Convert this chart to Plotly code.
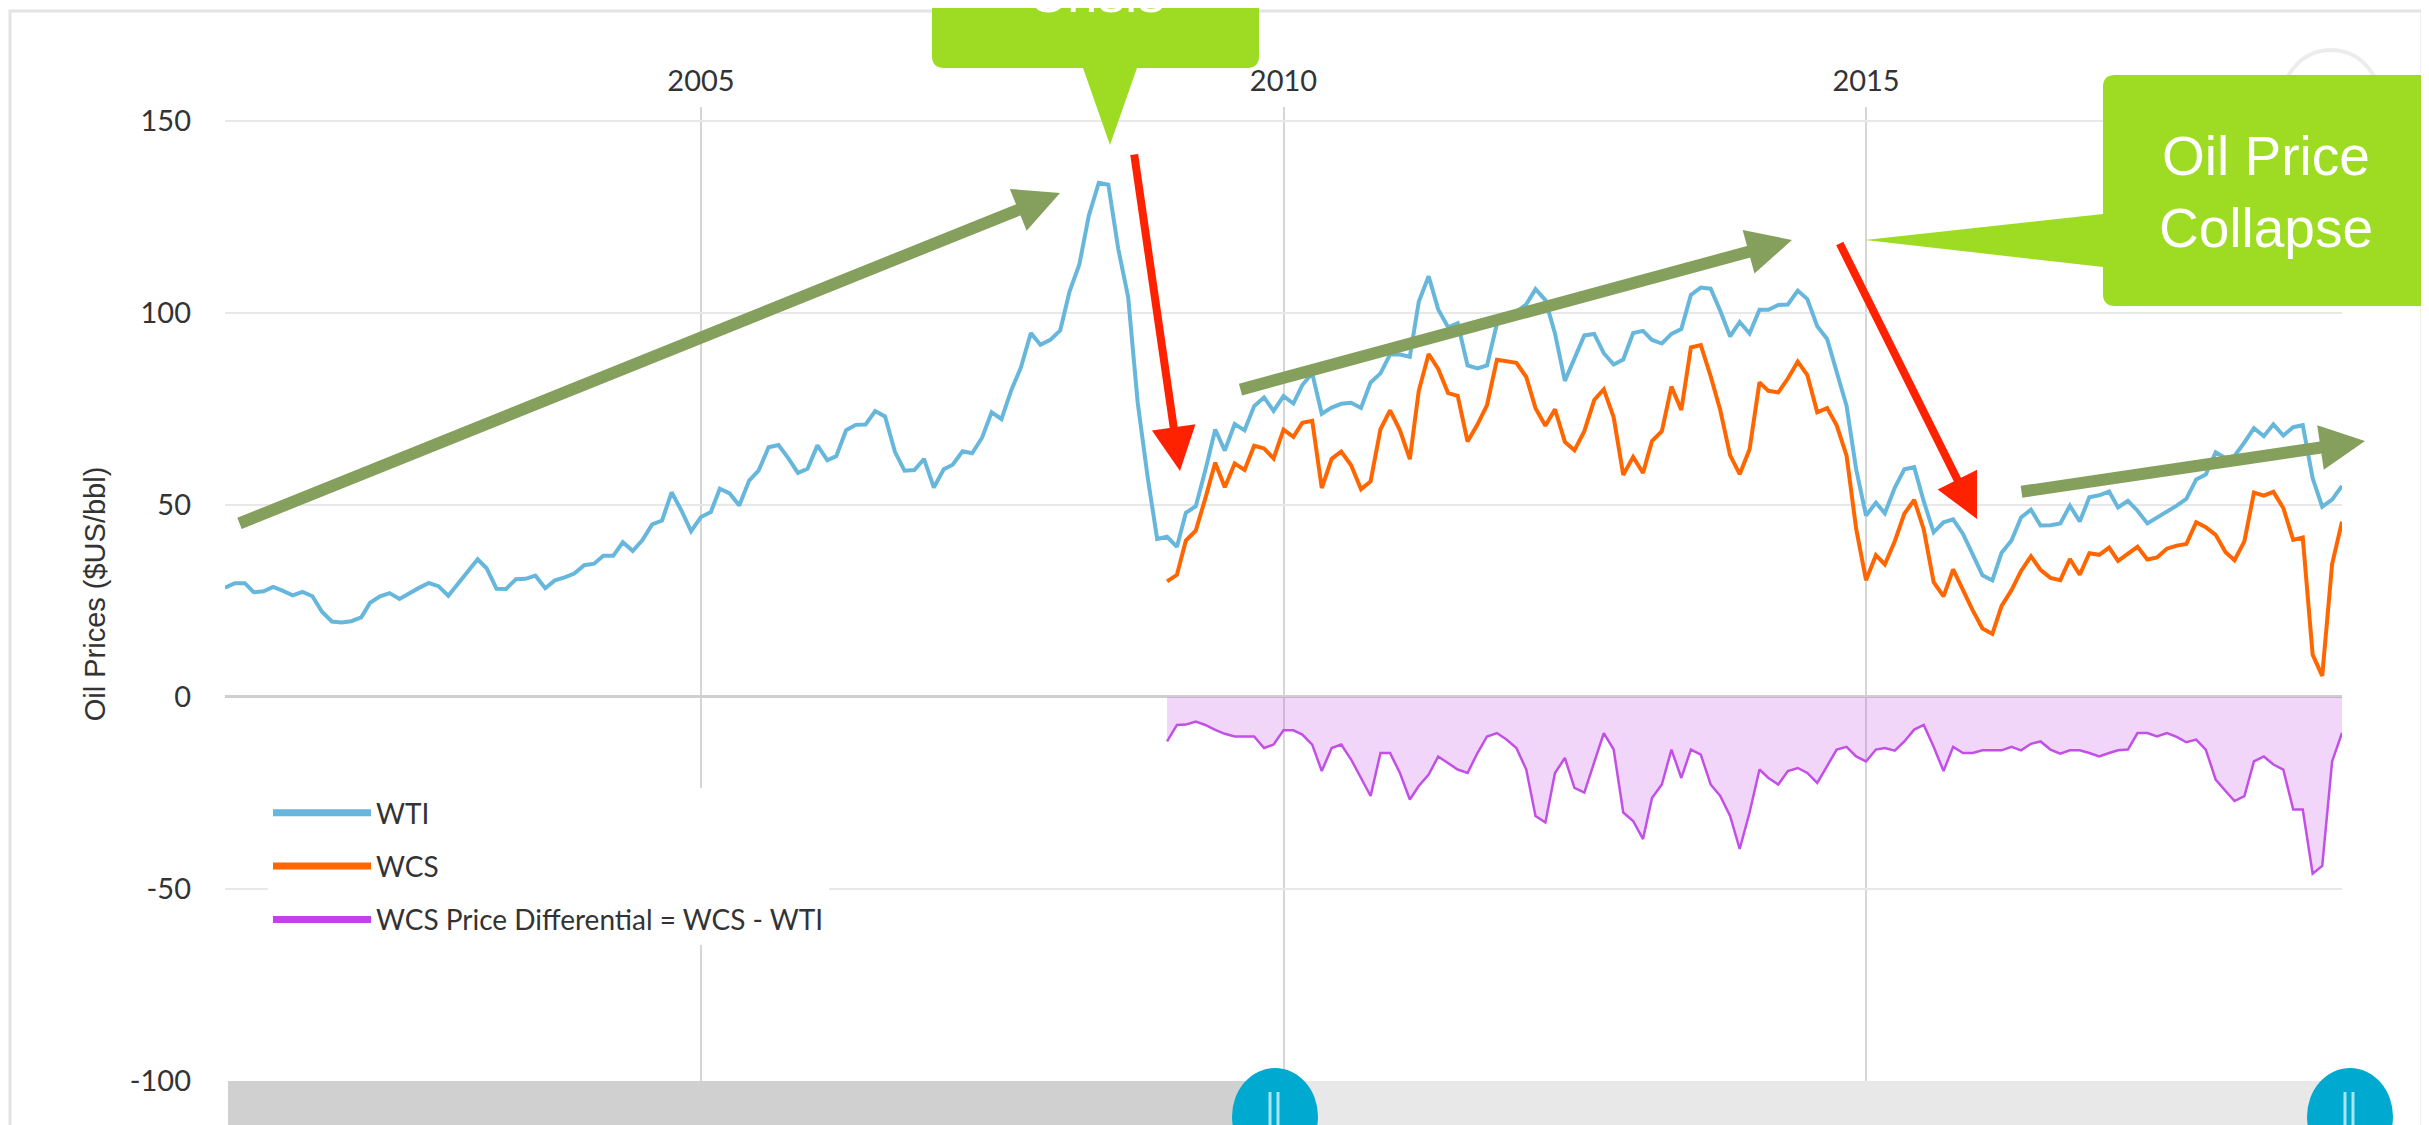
import pandas as pd
import plotly.graph_objects as go

W, H = 2429, 1125
OFF = 8  # default page margin around the plot div
margin = dict(l=217, r=87, t=99, b=44, pad=0)

# monthly averages, $US/bbl
wti_start = "2000-12-01"
wti = [
    28.44,
    29.59, 29.61, 27.25, 27.49, 28.63, 27.60, 26.43, 27.37, 26.20, 22.17, 19.64, 19.39,
    19.72, 20.72, 24.53, 26.18, 27.04, 25.52, 26.97, 28.39, 29.66, 28.84, 26.35, 29.46,
    32.95, 35.83, 33.51, 28.17, 28.11, 30.66, 30.75, 31.57, 28.31, 30.34, 31.11, 32.13,
    34.31, 34.69, 36.74, 36.75, 40.28, 38.03, 40.78, 44.90, 45.94, 53.28, 48.47, 43.15,
    46.84, 48.15, 54.19, 52.98, 49.83, 56.35, 59.00, 64.99, 65.59, 62.26, 58.32, 59.41,
    65.49, 61.63, 62.69, 69.44, 70.84, 70.95, 74.41, 73.04, 63.80, 58.89, 59.08, 61.96,
    54.51, 59.28, 60.44, 63.98, 63.45, 67.49, 74.12, 72.36, 79.92, 85.80, 94.77, 91.69,
    92.97, 95.39, 105.45, 112.58, 125.40, 133.88, 133.37, 116.67, 104.11, 76.61, 57.31, 41.12,
    41.71, 39.09, 47.94, 49.65, 59.03, 69.64, 64.15, 71.05, 69.41, 75.72, 77.99, 74.47,
    78.33, 76.39, 81.20, 84.29, 73.74, 75.34, 76.32, 76.60, 75.24, 81.89, 84.25, 89.15,
    89.17, 88.58, 102.86, 109.53, 100.90, 96.26, 97.30, 86.33, 85.52, 86.32, 97.16, 98.56,
    100.27, 102.20, 106.16, 103.32, 94.66, 82.30, 87.90, 94.13, 94.51, 89.49, 86.53, 87.86,
    94.76, 95.31, 92.94, 92.02, 94.51, 95.77, 104.67, 106.57, 106.29, 100.54, 93.86, 97.63,
    94.62, 100.82, 100.80, 102.07, 102.18, 105.79, 103.59, 96.54, 93.21, 84.40, 75.79, 59.29,
    47.22, 50.58, 47.82, 54.45, 59.27, 59.82, 50.90, 42.87, 45.48, 46.22, 42.44, 37.19,
    31.68, 30.32, 37.55, 40.75, 46.71, 48.76, 44.65, 44.72, 45.18, 49.78, 45.66, 51.97,
    52.50, 53.47, 49.33, 51.06, 48.48, 45.18, 46.63, 48.04, 49.82, 51.58, 56.64, 57.88,
    63.70, 62.23, 62.73, 66.25, 69.98, 67.87, 70.98, 68.06, 70.23, 70.75, 56.96, 49.52,
    51.38, 54.95,
]

wcs_start = "2009-01-01"
wcs = [
    30.1, 31.8, 40.7, 43.3, 51.7, 61.0, 54.6, 60.8, 59.1, 65.4, 64.7, 62.1,
    69.6, 67.7, 71.4, 71.9, 54.4, 62.0, 63.9, 60.3, 54.1, 56.1, 69.7, 74.6,
    69.4, 61.9, 79.7, 89.3, 85.4, 79.1, 78.4, 66.5, 70.9, 76.0, 87.8, 87.5,
    87.0, 83.3, 75.2, 70.6, 74.9, 66.4, 64.2, 69.2, 77.3, 80.1, 72.8, 57.8,
    62.5, 58.3, 66.6, 69.2, 80.8, 74.7, 91.0, 91.6, 83.5, 74.7, 62.9, 58.0,
    64.5, 81.9, 79.7, 79.3, 82.9, 87.3, 83.8, 74.1, 75.2, 70.7, 62.8, 43.8,
    30.4, 36.9, 34.5, 40.5, 47.7, 51.3, 43.6, 29.9, 26.2, 33.2, 27.8, 22.6,
    17.8, 16.4, 23.7, 27.8, 32.8, 36.6, 33.1, 31.0, 30.4, 35.9, 31.8, 37.4,
    37.0, 38.9, 35.4, 37.4, 39.1, 35.8, 36.3, 38.6, 39.4, 39.8, 45.5, 44.2,
    42.2, 37.7, 35.6, 40.5, 53.2, 52.4, 53.4, 49.2, 40.9, 41.5, 11.0, 5.5,
    34.6, 45.6,
]

wcs_wti_diff = [
    -11.6, -7.3, -7.2, -6.4, -7.3, -8.6, -9.6, -10.3, -10.3, -10.3, -13.3, -12.4,
    -8.7, -8.7, -9.8, -12.4, -19.3, -13.3, -12.4, -16.3, -21.1, -25.8, -14.6, -14.6,
    -19.8, -26.7, -23.2, -20.2, -15.5, -17.2, -18.9, -19.8, -14.6, -10.3, -9.4, -11.1,
    -13.3, -18.9, -31.0, -32.7, -19.8, -15.9, -23.7, -24.9, -17.2, -9.4, -13.7, -30.1,
    -32.3, -37.0, -26.3, -22.8, -13.7, -21.1, -13.7, -15.0, -22.8, -25.8, -31.0, -39.6,
    -30.1, -18.9, -21.1, -22.8, -19.3, -18.5, -19.8, -22.4, -18.0, -13.7, -13.0, -15.5,
    -16.8, -13.7, -13.3, -14.0, -11.6, -8.5, -7.3, -13.0, -19.3, -13.0, -14.6, -14.6,
    -13.9, -13.9, -13.9, -13.0, -13.9, -12.2, -11.6, -13.7, -14.8, -13.9, -13.9, -14.6,
    -15.5, -14.6, -13.9, -13.7, -9.4, -9.4, -10.3, -9.4, -10.4, -11.8, -11.1, -13.7,
    -21.5, -24.5, -27.1, -25.8, -16.8, -15.5, -17.6, -18.9, -29.3, -29.3, -46.0, -44.0,
    -16.8, -9.4,
]

series_names = ["WTI", "WCS", "WCS Price Differential = WCS - WTI"]
series_colors = ["#67b7dc", "#ff6600", "#c043e8"]
y_ticks = [-100, -50, 0, 50, 100, 150]
y_ticktext = ["-100", "-50", "0", "50", "100", "150"]
x_end = "2019-02-01"

fw, fh = W - OFF, H - OFF
pw = fw - margin["l"] - margin["r"]
ph = fh - margin["t"] - margin["b"]


# page pixel -> paper helpers for the drawn-on annotations
def px(x):
    return (x - OFF - margin["l"]) / pw


def py(y):
    return (fh - margin["b"] - (y - OFF)) / ph


def path(cmds):
    out = []
    for cmd, *pts in cmds:
        xy = [f"{px(pts[i]):.5f},{py(pts[i + 1]):.5f}" for i in range(0, len(pts), 2)]
        out.append(cmd + " ".join(xy))
    return " ".join(out) + " Z"


wti_dates = pd.date_range(wti_start, periods=len(wti), freq="MS")
wcs_dates = pd.date_range(wcs_start, periods=len(wcs), freq="MS")

fig = go.Figure()
fig.add_trace(go.Scatter(x=wcs_dates, y=wcs_wti_diff, mode="lines", fill="tozeroy",
                         line=dict(color="#c24fe6", width=2.5),
                         fillcolor="rgba(192,67,232,0.22)", showlegend=False))
fig.add_trace(go.Scatter(x=wti_dates, y=wti, mode="lines",
                         line=dict(color=series_colors[0], width=4), showlegend=False))
fig.add_trace(go.Scatter(x=wcs_dates, y=wcs, mode="lines",
                         line=dict(color=series_colors[1], width=4), showlegend=False))
# legend entries (thicker swatches like the original)
for name, c in zip(series_names, series_colors):
    fig.add_trace(go.Scatter(x=[None], y=[None], mode="lines", name=name, legendgroup=name,
                             line=dict(color=c, width=7)))

green = "#9ddc22"
olive = "#84a05c"
red = "#ff2200"

shapes = [
    # outer chart frame
    dict(type="rect", x0=px(10), x1=px(2422), y0=py(11), y1=py(1160),
         line=dict(color="#e3e3e3", width=3), layer="below"),
    # faint button circle top right
    dict(type="circle", x0=px(2283), x1=px(2379), y0=py(50), y1=py(146),
         line=dict(color="#ececec", width=4)),
    # navigator
    dict(type="rect", x0=px(228), x1=px(1275), y0=py(1081), y1=py(1160),
         fillcolor="#d0d0d0", line=dict(width=0)),
    dict(type="rect", x0=px(1275), x1=px(2346), y0=py(1081), y1=py(1160),
         fillcolor="#e8e8e8", line=dict(width=0)),
]
for cx in (1275, 2350):
    shapes.append(dict(type="circle", x0=px(cx - 43), x1=px(cx + 43), y0=py(1068), y1=py(1165),
                       fillcolor="#00a9cf", line=dict(width=0)))
    for dx in (-5, 3):
        shapes.append(dict(type="line", x0=px(cx + dx), x1=px(cx + dx), y0=py(1092), y1=py(1130),
                           line=dict(color="#a8e6f4", width=3)))

# callout boxes
r = 12
x0, x1, y0, y1 = 932, 1259, -200, 68
shapes.append(dict(type="path", fillcolor=green, line=dict(width=0), path=path([
    ("M", x0, y0), ("L", x1, y0), ("L", x1, y1 - r), ("Q", x1, y1, x1 - r, y1),
    ("L", 1137, y1), ("L", 1110, 145), ("L", 1083, y1),
    ("L", x0 + r, y1), ("Q", x0, y1, x0, y1 - r),
])))
x0, x1, y0, y1 = 2103, 2431, 75, 306
shapes.append(dict(type="path", fillcolor=green, line=dict(width=0), path=path([
    ("M", x0 + r, y0), ("L", x1 - r, y0), ("Q", x1, y0, x1, y0 + r), ("L", x1, y1 - r),
    ("Q", x1, y1, x1 - r, y1), ("L", x0 + r, y1), ("Q", x0, y1, x0, y1 - r),
    ("L", x0, 267), ("L", 1865, 240), ("L", x0, 214),
    ("L", x0, y0 + r), ("Q", x0, y0, x0 + r, y0),
])))
for s in shapes:
    s.update(xref="paper", yref="paper")

annotations = [
    dict(x=px(2266), y=py(192), xref="paper", yref="paper", text="Oil Price<br>Collapse",
         showarrow=False, xanchor="center", yanchor="middle",
         font=dict(family="Liberation Sans, Arial", size=55, color="white")),
    dict(x=px(1096), y=py(-43), xref="paper", yref="paper", text="Financial<br>Crisis",
         showarrow=False, xanchor="center", yanchor="middle",
         font=dict(family="Liberation Sans, Arial", size=55, color="white")),
]

# trend arrows: tip x, tip y, tail x, tail y, colour, width, head size
arrows = [
    (1060, 193, 238, 524, olive, 12, 0.75),
    (1792, 240, 1239, 390, olive, 12, 0.75),
    (2365, 441, 2020, 492, olive, 12, 0.75),
    (1180, 471, 1134, 153, red, 8, 1.1),
    (1977, 519, 1839, 242, red, 8, 1.1),
]
for tx, ty, sx, sy, c, w, s in arrows:
    annotations.append(dict(x=px(tx), y=py(ty), xref="paper", yref="paper",
                            ax=sx - tx, ay=sy - ty, text="", showarrow=True,
                            arrowhead=2, arrowsize=s, arrowwidth=w, arrowcolor=c, standoff=0))

fig.update_layout(
    width=fw, height=fh, margin=margin,
    paper_bgcolor="white", plot_bgcolor="white",
    font=dict(family="Lato", size=29, color="#333333"),
    shapes=shapes, annotations=annotations,
    legend=dict(x=px(268), y=py(788), xanchor="left", yanchor="top",
                bgcolor="white", borderwidth=0, itemwidth=98, tracegroupgap=14,
                font=dict(family="Lato", size=28, color="#333333")),
    hovermode=False,
)
fig.update_xaxes(
    type="date", range=[wti_start, x_end], side="top",
    tick0="2000-01-01", dtick="M60", tickformat="%Y",
    showgrid=True, gridcolor="#d6d6d6", gridwidth=2,
    showline=False, zeroline=False, ticks="", ticklabelstandoff=9,
)
fig.update_yaxes(
    range=[-100, 153.6], tickvals=y_ticks, ticktext=y_ticktext,
    showgrid=True, gridcolor="#e8e8e8", gridwidth=2,
    zeroline=True, zerolinecolor="#cfcfcf", zerolinewidth=3,
    showline=False, ticks="", ticklabelstandoff=33,
    title=dict(text="Oil Prices ($US/bbl)", standoff=15,
               font=dict(family="Liberation Sans, Arial", size=29)),
)

fig.write_html("out.html")
